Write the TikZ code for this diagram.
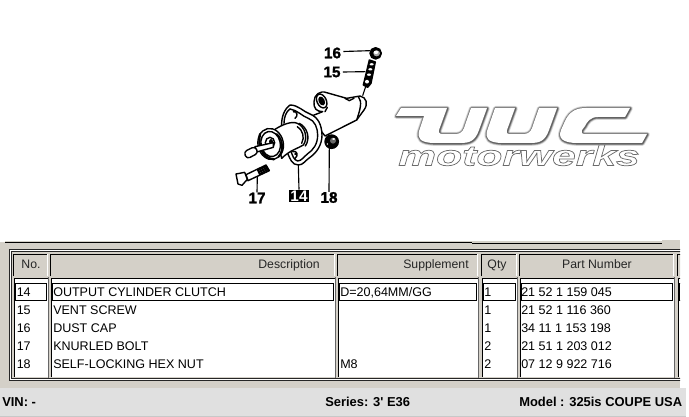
\documentclass[tikz,border=0pt]{standalone}
\usepackage{fontspec}
\setmainfont{Liberation Sans}
\newfontfamily\logofont[FakeStretch=1.5,FakeBold=2.6]{Liberation Sans Bold Italic}
\newfontfamily\calloutfont[FakeBold=1.2]{Liberation Sans Bold}
\newfontfamily\footfont{Liberation Sans Bold}
\usetikzlibrary{calc}
\definecolor{panel}{HTML}{D4D0C8}
\definecolor{footbg}{HTML}{E0E0E0}
\definecolor{footline}{HTML}{C8C8C8}
\tikzset{
  cell/.style={font=\fontsize{9.4}{11}\selectfont,anchor=base west,inner sep=0pt,text=black},
  headc/.style={font=\fontsize{9.2}{11}\selectfont,anchor=base,inner sep=0pt,text=black!85},
  headr/.style={headc,anchor=base east},
  foot/.style={font=\footfont\fontsize{9.7}{11}\selectfont,anchor=base west,inner sep=0pt},
  callout/.style={font=\calloutfont\fontsize{11.5}{12}\selectfont,inner sep=0pt},
  calloutbox/.style={font=\footfont\fontsize{11.5}{12}\selectfont,inner sep=0pt,fill=black,text=white,minimum width=15pt,minimum height=9pt},
  leader/.style={line width=0.85pt},
  part/.style={line width=1.05pt,line join=round,line cap=round,fill=white},
  partline/.style={line width=1.05pt,line join=round,line cap=round},
  rowbox/.style={draw=black,line width=0.75pt,fill=white}
}
\def\uuclogo{
  (396,116) -- (401,108) -- (447,108) -- (439,130) .. controls (438,134) and (441,134) .. (445,134) -- (456,134) .. controls (462,134) and (464,129) .. (465,125) -- (471,108) -- (487,108) -- (479,130) .. controls (475,141) and (470,143) .. (460,143) -- (435,143) .. controls (420,143) and (417,138) .. (419,131) -- (424,116) -- cycle
  (495,108) -- (515,108) -- (507,130) .. controls (506,134) and (508,134) .. (512,134) -- (524,134) .. controls (530,134) and (532,129) .. (533,125) -- (539,108) -- (557,108) -- (549,130) .. controls (545,141) and (540,143) .. (530,143) -- (503,143) .. controls (488,143) and (485,138) .. (487,131) -- cycle
  (630,108) -- (625,117) -- (598,117) .. controls (590,117) and (587,122) .. (585,126) -- (582,130) .. controls (581,134) and (583,134) .. (587,134) -- (647,134) -- (642,143) -- (578,143) .. controls (562,143) and (558,138) .. (561,130) -- (565,121) .. controls (570,110) and (578,108) .. (586,108) -- cycle
}
\begin{document}
\begin{tikzpicture}[x=0.75pt,y=-0.75pt]
\useasboundingbox (0,0) rectangle (689,417);
\fill[white] (0,0) rectangle (689,417);
% ---- logo
\foreach \w/\o in {5/0.14,3.8/0.2,2.8/0.3,1.8/0.5}{
  \draw[black!80,line width=\w*0.75pt,opacity=\o,line join=round,xshift=0.3pt,yshift=-0.3pt] \uuclogo;
}
\fill[white] \uuclogo;
\node[anchor=base west,inner sep=0pt,text=white] (logotext) at (398,165.5)
  {\logofont\fontsize{21.3}{22}\selectfont\special{pdf:code 0.42 0.42 0.42 RG}motorwerks};
% ---- exploded view
\begin{scope}[shift={(210,30)},x=0.25pt,y=-0.25pt]
  % bore and lug
  \filldraw[part] (312,215) .. controls (312,195) and (330,180) .. (350,188) -- (410,205) -- (450,198) .. controls (470,202) and (475,222) .. (462,240) -- (440,270) -- (345,318) -- (300,260) -- (338,245) .. controls (320,245) and (310,235) .. (312,215) -- cycle;
  \draw[partline] (445,200) .. controls (458,215) and (450,240) .. (440,270);
  \draw[partline] (405,205) -- (418,212) -- (432,205);
  \filldraw[partline,fill=white,rotate around={25:(335,213)}] (335,213) ellipse (14 and 22);
  \filldraw[partline,fill=black,rotate around={25:(335,213)}] (335,213) ellipse (7 and 12);
  \draw[partline] (345,245) -- (352,232);
  % flange
  \filldraw[part] (240,225) .. controls (265,225) and (280,245) .. (300,252) .. controls (325,262) and (335,285) .. (336,315) .. controls (336,345) and (320,368) .. (300,382) .. controls (285,392) and (280,405) .. (265,405) .. controls (245,405) and (240,385) .. (233,370) -- (215,290) .. controls (213,260) and (225,235) .. (240,225) -- cycle;
  \draw[partline] (240,237) .. controls (262,240) and (275,258) .. (295,265) .. controls (315,272) and (323,295) .. (323,315) .. controls (323,342) and (310,360) .. (292,372) .. controls (280,382) and (275,392) .. (263,393) .. controls (250,390) and (248,375) .. (243,365);
  \draw[partline] (240,237) .. controls (228,245) and (222,262) .. (222,280);
  \draw[partline] (250,243) .. controls (262,245) and (265,258) .. (255,265);
  \draw[partline] (248,365) .. controls (262,360) and (266,378) .. (255,385);
  \fill (252,245) circle (3.5); \fill (256,372) circle (3.5);
  % tube
  \filldraw[part] (195,298) .. controls (215,285) and (245,272) .. (262,280) .. controls (285,290) and (295,325) .. (280,345) .. controls (265,355) and (240,360) .. (215,385) -- cycle;
  \draw[partline] (268,280) .. controls (292,292) and (302,325) .. (286,348);
  \draw[partline] (262,290) .. controls (278,300) and (285,322) .. (275,340);
  % front ring
  \filldraw[part,rotate around={12:(182,342)}] (182,342) ellipse (38 and 47);
  \filldraw[partline,fill=white,rotate around={12:(182,342)}] (182,342) ellipse (29 and 38);
  \draw[partline,line width=1.7pt] (150,312) .. controls (143,345) and (155,385) .. (192,388);
  \draw[partline,line width=1.3pt] (200,312) .. controls (222,330) and (220,365) .. (205,380);
  \filldraw[partline,fill=white] (180,338) ellipse (14 and 16);
  \fill (183,335) ellipse (6 and 8);
  % rod
  \filldraw[part] (190,338) -- (135,350) -- (140,366) -- (190,352) -- cycle;
  \filldraw[part,rounded corners=2.5pt] (101,366) -- (135,349) -- (145,369) -- (111,387) -- cycle;
  % bolt
  \filldraw[part] (78,432) -- (104,427) -- (112,448) -- (96,466) -- (84,462) -- cycle;
  \filldraw[part] (108,434) -- (168,405) -- (178,422) -- (114,452) -- cycle;
  \foreach \t in {0.58,0.68,0.78,0.88,0.97}{
    \draw[line width=1.7pt] ($(108,434)!\t!(168,405)$) -- ($(114,452)!\t!(178,422)$);
  }
  % nut
  \filldraw[partline,fill=black] (365,335) circle (20);
  \fill[black!60] (369,332) circle (9);
  \fill[white] (371,327) ellipse (5 and 3);
  \fill[white] (352,342) circle (2.5);
  \coordinate (nutbase) at (358,352);
  % cap
  \filldraw[partline,fill=black] (497,70) circle (17);
  \fill[black!35] (500,70) ellipse (10 and 9);
  \fill[white] (498,67) ellipse (7 and 5);
  % screw
  \filldraw[partline,fill=black] (478,90) -- (496,96) -- (483,160) -- (473,172) -- (460,165) -- cycle;
  \foreach \px/\py/\h in {485/103/1,481/118/1,477/134/1,471/155/1.6}{
    \fill[white] (\px,\py) ellipse (6 and 3.5*\h);
  }
  \coordinate (capw) at (481,62);
  \coordinate (screww) at (466,125);
  \coordinate (screwb) at (467,170);
  \coordinate (bodytop) at (458,197);
  \coordinate (flangeb) at (265,405);
  \coordinate (boltb) at (142,440);
\end{scope}
% callouts
\node[callout] (n16) at (332.5,53) {16};
\node[callout] (n15) at (332,72) {15};
\node[callout] (n17) at (257,198) {17};
\node[calloutbox] (n14) at (299,196) {14};
\node[callout] (n18) at (329,197.5) {18};
\draw[leader] (n16.east) ++(2,-1.5) coordinate (a16) -- (capw);
\draw[leader] (n15.east) ++(2,0) coordinate (a15) -- (screww);
\draw[leader] (n17.north) -- (boltb);
\draw[leader] (n14.north) -- (flangeb);
\draw[leader] (n18.north) -- (nutbase);
\draw[leader] (screwb) -- (bodytop);
% ---- table panel
\fill[panel] (0,241) rectangle (680,388);
\fill[white] (0,241) rectangle (5,241.5);
\draw[black,line width=0.75pt] (5,242) -- (472,242);
\draw[black,line width=0.75pt] (472,243) -- (662,243);
\fill[panel] (662,239.5) rectangle (680,241);
\begin{scope}
  \clip (0,241) rectangle (680,388);
  \draw[black!85,line width=0.75pt] (9.5,249.5) rectangle (700,380.5);
  \draw[white,line width=0.75pt] (10.5,250.5) rectangle (700,379.5);
  \draw[black!85,line width=0.75pt] (11.5,251.5) rectangle (700,378.5);
  \foreach \a/\b in {13/48,50/335,337/478,481/517,519/674,677/720}{
    \fill[panel] (\a,254) rectangle (\b,276);
    \draw[black,line width=0.75pt] (\a+.5,276) -- (\a+.5,254.5) -- (\b,254.5);
    \draw[white,line width=0.75pt] (\b-.5,254) -- (\b-.5,276);
    \fill[white] (\a+.5,277.5) rectangle (\b,377);
    \draw[black,line width=0.75pt] (\a+1,377) -- (\a+1,278) -- (\b,278);
    \draw[black!60,line width=0.75pt] (\b+.5,277) -- (\b+.5,378);
    \draw[rowbox] (\a+2.5,283.5) rectangle (\b-1.5,300.5);
  }
\end{scope}
% headers
\node[headc] (hno) at (31,268) {No.};
\node[headr] (hdesc) at (320,268) {Description};
\node[headr] (hsup) at (469,268) {Supplement};
\node[headc] (hqty) at (497,268) {Qty};
\node[headc] (hpart) at (597,268) {Part Number};
% rows
\foreach \y/\no/\desc/\qty/\pn [count=\i] in {
  296.5/14/OUTPUT CYLINDER CLUTCH/1/21 52 1 159 045,
  314.5/15/VENT SCREW/1/21 52 1 116 360,
  332.5/16/DUST CAP/1/34 11 1 153 198,
  350.5/17/KNURLED BOLT/2/21 51 1 203 012,
  368.5/18/SELF-LOCKING HEX NUT/2/07 12 9 922 716}{
  \node[cell] (no\i) at (16.5,\y) {\no};
  \node[cell] (desc\i) at (53,\y) {\desc};
  \node[cell] (qty\i) at (484,\y) {\qty};
  \node[cell] (pn\i) at (521,\y) {\pn};
}
\node[cell] (sup1) at (340,296.5) {D=20,64MM/GG};
\node[cell] (sup5) at (340,368.5) {M8};
% ---- footer
\fill[footbg] (0,388) rectangle (686,416);
\fill[footline] (0,416) rectangle (686,417);
\node[foot] (vin) at (2,406.5) {VIN: -};
\node[foot] (series) at (325,406.5) {Series: 3' E36};
\node[foot] (model) at (519,406.5) {Model : 325is COUPE USA};
\end{tikzpicture}
\end{document}
